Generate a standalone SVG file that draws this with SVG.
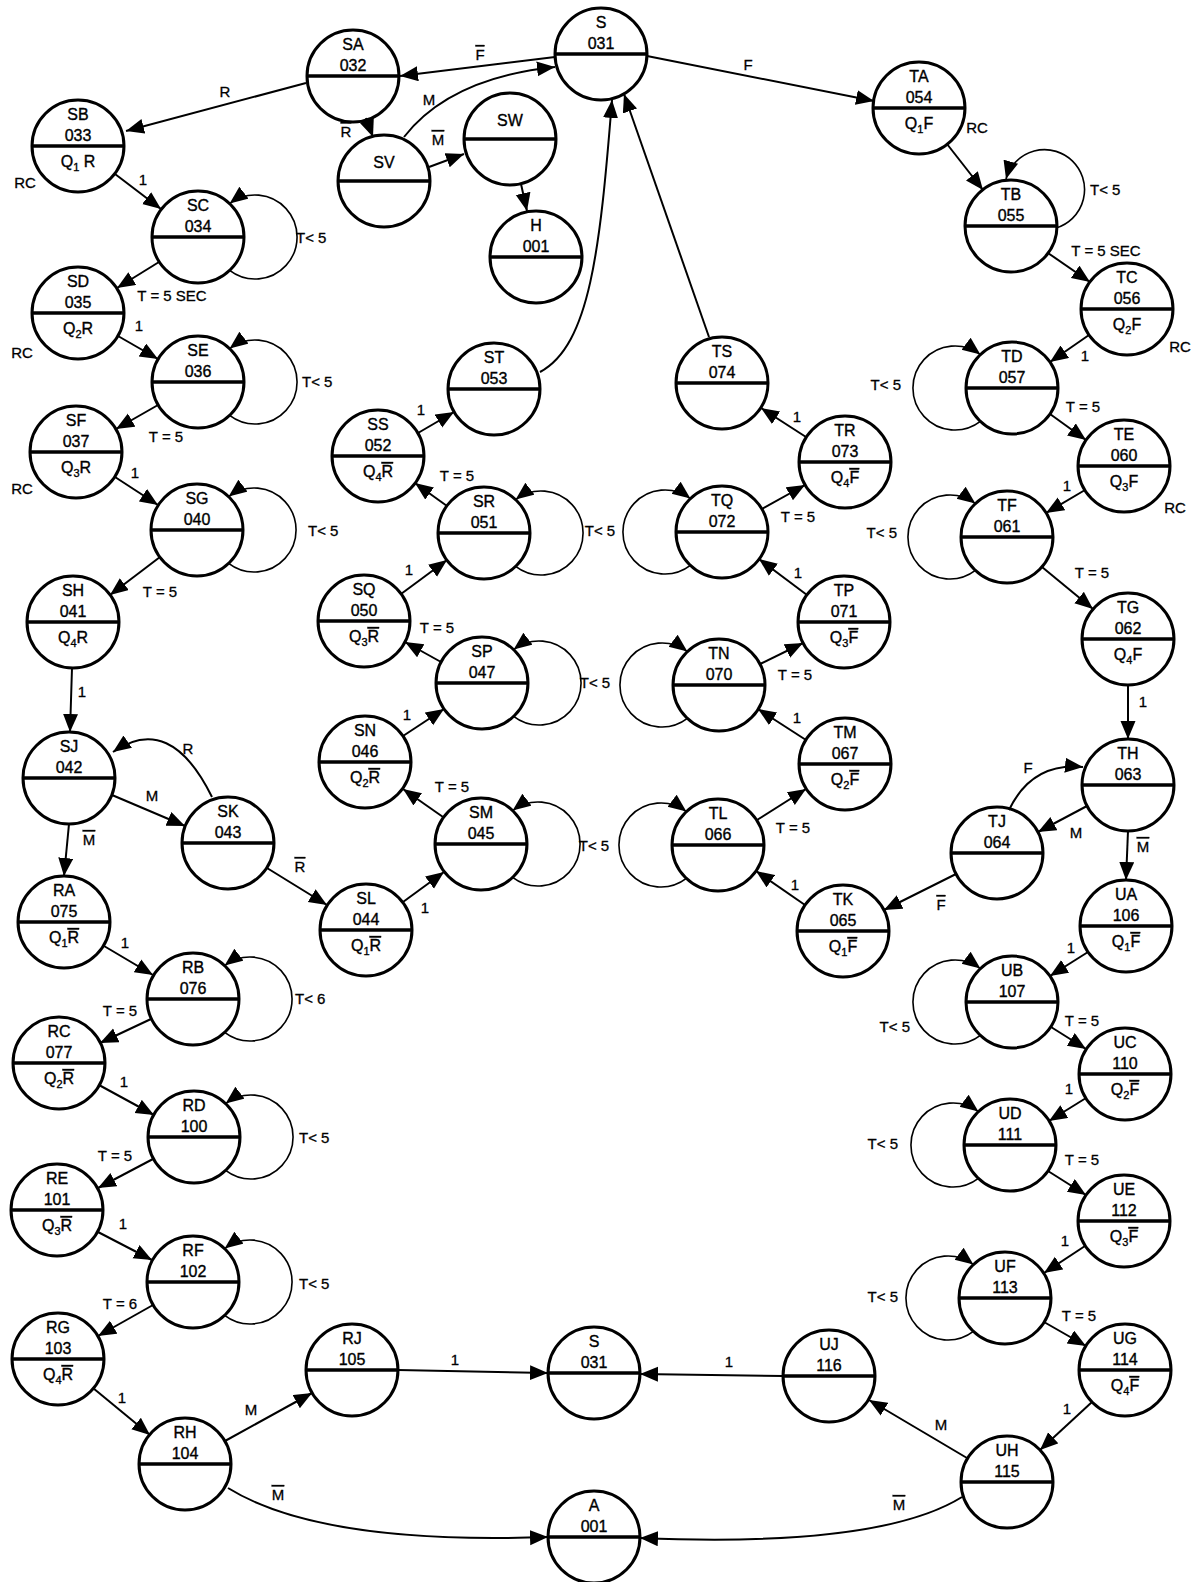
<svg xmlns="http://www.w3.org/2000/svg" width="1194" height="1582" viewBox="0 0 1194 1582">
<defs>
<style>
.n circle{fill:#fff;stroke:#000;stroke-width:3}
.n line{stroke:#000;stroke-width:3.5}
.t{font-family:"Liberation Sans",Arial,sans-serif;font-size:16px;text-anchor:middle;fill:#000;stroke:#000;stroke-width:0.35}
.s{font-size:11px}
.o{text-decoration:overline}
.e{fill:none;stroke:#000;stroke-width:2;marker-end:url(#ah)}
.lp{fill:none;stroke:#000;stroke-width:1.6;marker-end:url(#ah)}
.lb{font-family:"Liberation Sans",Arial,sans-serif;font-size:15px;fill:#000;stroke:#000;stroke-width:0.3;text-anchor:middle}
.ls{text-anchor:start}
.le{text-anchor:end}
</style>
<marker id="ah" markerUnits="userSpaceOnUse" markerWidth="20" markerHeight="16" refX="18" refY="7.5" orient="auto"><path d="M0,0 L18,7.5 L0,15 z" fill="#000"/></marker>
</defs>
<rect width="1194" height="1582" fill="#fff"/>

<g id="nodes">
<g id="S031" class="n"><circle cx="601" cy="54" r="46"/><line x1="555" y1="54" x2="647" y2="54"/><text class="t" x="601" y="28">S</text><text class="t" x="601" y="49">031</text></g>
<g id="SA" class="n"><circle cx="353" cy="76" r="46"/><line x1="307" y1="76" x2="399" y2="76"/><text class="t" x="353" y="50">SA</text><text class="t" x="353" y="71">032</text></g>
<g id="SB" class="n"><circle cx="78" cy="146" r="46"/><line x1="32" y1="146" x2="124" y2="146"/><text class="t" x="78" y="120">SB</text><text class="t" x="78" y="141">033</text><text class="t" x="78" y="167">Q<tspan class="s" dy="4">1</tspan><tspan dy="-4"> R</tspan></text></g>
<g id="SV" class="n"><circle cx="384" cy="181" r="46"/><line x1="338" y1="181" x2="430" y2="181"/><text class="t" x="384" y="168">SV</text></g>
<g id="SW" class="n"><circle cx="510" cy="139" r="46"/><line x1="464" y1="139" x2="556" y2="139"/><text class="t" x="510" y="126">SW</text></g>
<g id="H" class="n"><circle cx="536" cy="257" r="46"/><line x1="490" y1="257" x2="582" y2="257"/><text class="t" x="536" y="231">H</text><text class="t" x="536" y="252">001</text></g>
<g id="SC" class="n"><circle cx="198" cy="237" r="46"/><line x1="152" y1="237" x2="244" y2="237"/><text class="t" x="198" y="211">SC</text><text class="t" x="198" y="232">034</text></g>
<g id="SD" class="n"><circle cx="78" cy="313" r="46"/><line x1="32" y1="313" x2="124" y2="313"/><text class="t" x="78" y="287">SD</text><text class="t" x="78" y="308">035</text><text class="t" x="78" y="334">Q<tspan class="s" dy="4">2</tspan><tspan dy="-4">R</tspan></text></g>
<g id="SE" class="n"><circle cx="198" cy="382" r="46"/><line x1="152" y1="382" x2="244" y2="382"/><text class="t" x="198" y="356">SE</text><text class="t" x="198" y="377">036</text></g>
<g id="SF" class="n"><circle cx="76" cy="452" r="46"/><line x1="30" y1="452" x2="122" y2="452"/><text class="t" x="76" y="426">SF</text><text class="t" x="76" y="447">037</text><text class="t" x="76" y="473">Q<tspan class="s" dy="4">3</tspan><tspan dy="-4">R</tspan></text></g>
<g id="SG" class="n"><circle cx="197" cy="530" r="46"/><line x1="151" y1="530" x2="243" y2="530"/><text class="t" x="197" y="504">SG</text><text class="t" x="197" y="525">040</text></g>
<g id="SH" class="n"><circle cx="73" cy="622" r="46"/><line x1="27" y1="622" x2="119" y2="622"/><text class="t" x="73" y="596">SH</text><text class="t" x="73" y="617">041</text><text class="t" x="73" y="643">Q<tspan class="s" dy="4">4</tspan><tspan dy="-4">R</tspan></text></g>
<g id="SJ" class="n"><circle cx="69" cy="778" r="46"/><line x1="23" y1="778" x2="115" y2="778"/><text class="t" x="69" y="752">SJ</text><text class="t" x="69" y="773">042</text></g>
<g id="SK" class="n"><circle cx="228" cy="843" r="46"/><line x1="182" y1="843" x2="274" y2="843"/><text class="t" x="228" y="817">SK</text><text class="t" x="228" y="838">043</text></g>
<g id="SL" class="n"><circle cx="366" cy="930" r="46"/><line x1="320" y1="930" x2="412" y2="930"/><text class="t" x="366" y="904">SL</text><text class="t" x="366" y="925">044</text><text class="t" x="366" y="951">Q<tspan class="s" dy="4">1</tspan><tspan dy="-4" class="o">R</tspan></text></g>
<g id="SM" class="n"><circle cx="481" cy="844" r="46"/><line x1="435" y1="844" x2="527" y2="844"/><text class="t" x="481" y="818">SM</text><text class="t" x="481" y="839">045</text></g>
<g id="SN" class="n"><circle cx="365" cy="762" r="46"/><line x1="319" y1="762" x2="411" y2="762"/><text class="t" x="365" y="736">SN</text><text class="t" x="365" y="757">046</text><text class="t" x="365" y="783">Q<tspan class="s" dy="4">2</tspan><tspan dy="-4" class="o">R</tspan></text></g>
<g id="SP" class="n"><circle cx="482" cy="683" r="46"/><line x1="436" y1="683" x2="528" y2="683"/><text class="t" x="482" y="657">SP</text><text class="t" x="482" y="678">047</text></g>
<g id="SQ" class="n"><circle cx="364" cy="621" r="46"/><line x1="318" y1="621" x2="410" y2="621"/><text class="t" x="364" y="595">SQ</text><text class="t" x="364" y="616">050</text><text class="t" x="364" y="642">Q<tspan class="s" dy="4">3</tspan><tspan dy="-4" class="o">R</tspan></text></g>
<g id="SR" class="n"><circle cx="484" cy="533" r="46"/><line x1="438" y1="533" x2="530" y2="533"/><text class="t" x="484" y="507">SR</text><text class="t" x="484" y="528">051</text></g>
<g id="SS" class="n"><circle cx="378" cy="456" r="46"/><line x1="332" y1="456" x2="424" y2="456"/><text class="t" x="378" y="430">SS</text><text class="t" x="378" y="451">052</text><text class="t" x="378" y="477">Q<tspan class="s" dy="4">4</tspan><tspan dy="-4" class="o">R</tspan></text></g>
<g id="ST" class="n"><circle cx="494" cy="389" r="46"/><line x1="448" y1="389" x2="540" y2="389"/><text class="t" x="494" y="363">ST</text><text class="t" x="494" y="384">053</text></g>
<g id="TA" class="n"><circle cx="919" cy="108" r="46"/><line x1="873" y1="108" x2="965" y2="108"/><text class="t" x="919" y="82">TA</text><text class="t" x="919" y="103">054</text><text class="t" x="919" y="129">Q<tspan class="s" dy="4">1</tspan><tspan dy="-4">F</tspan></text></g>
<g id="TB" class="n"><circle cx="1011" cy="226" r="46"/><line x1="965" y1="226" x2="1057" y2="226"/><text class="t" x="1011" y="200">TB</text><text class="t" x="1011" y="221">055</text></g>
<g id="TC" class="n"><circle cx="1127" cy="309" r="46"/><line x1="1081" y1="309" x2="1173" y2="309"/><text class="t" x="1127" y="283">TC</text><text class="t" x="1127" y="304">056</text><text class="t" x="1127" y="330">Q<tspan class="s" dy="4">2</tspan><tspan dy="-4">F</tspan></text></g>
<g id="TD" class="n"><circle cx="1012" cy="388" r="46"/><line x1="966" y1="388" x2="1058" y2="388"/><text class="t" x="1012" y="362">TD</text><text class="t" x="1012" y="383">057</text></g>
<g id="TE" class="n"><circle cx="1124" cy="466" r="46"/><line x1="1078" y1="466" x2="1170" y2="466"/><text class="t" x="1124" y="440">TE</text><text class="t" x="1124" y="461">060</text><text class="t" x="1124" y="487">Q<tspan class="s" dy="4">3</tspan><tspan dy="-4">F</tspan></text></g>
<g id="TF" class="n"><circle cx="1007" cy="537" r="46"/><line x1="961" y1="537" x2="1053" y2="537"/><text class="t" x="1007" y="511">TF</text><text class="t" x="1007" y="532">061</text></g>
<g id="TG" class="n"><circle cx="1128" cy="639" r="46"/><line x1="1082" y1="639" x2="1174" y2="639"/><text class="t" x="1128" y="613">TG</text><text class="t" x="1128" y="634">062</text><text class="t" x="1128" y="660">Q<tspan class="s" dy="4">4</tspan><tspan dy="-4">F</tspan></text></g>
<g id="TH" class="n"><circle cx="1128" cy="785" r="46"/><line x1="1082" y1="785" x2="1174" y2="785"/><text class="t" x="1128" y="759">TH</text><text class="t" x="1128" y="780">063</text></g>
<g id="TJ" class="n"><circle cx="997" cy="853" r="46"/><line x1="951" y1="853" x2="1043" y2="853"/><text class="t" x="997" y="827">TJ</text><text class="t" x="997" y="848">064</text></g>
<g id="TK" class="n"><circle cx="843" cy="931" r="46"/><line x1="797" y1="931" x2="889" y2="931"/><text class="t" x="843" y="905">TK</text><text class="t" x="843" y="926">065</text><text class="t" x="843" y="952">Q<tspan class="s" dy="4">1</tspan><tspan dy="-4" class="o">F</tspan></text></g>
<g id="TL" class="n"><circle cx="718" cy="845" r="46"/><line x1="672" y1="845" x2="764" y2="845"/><text class="t" x="718" y="819">TL</text><text class="t" x="718" y="840">066</text></g>
<g id="TM" class="n"><circle cx="845" cy="764" r="46"/><line x1="799" y1="764" x2="891" y2="764"/><text class="t" x="845" y="738">TM</text><text class="t" x="845" y="759">067</text><text class="t" x="845" y="785">Q<tspan class="s" dy="4">2</tspan><tspan dy="-4" class="o">F</tspan></text></g>
<g id="TN" class="n"><circle cx="719" cy="685" r="46"/><line x1="673" y1="685" x2="765" y2="685"/><text class="t" x="719" y="659">TN</text><text class="t" x="719" y="680">070</text></g>
<g id="TP" class="n"><circle cx="844" cy="622" r="46"/><line x1="798" y1="622" x2="890" y2="622"/><text class="t" x="844" y="596">TP</text><text class="t" x="844" y="617">071</text><text class="t" x="844" y="643">Q<tspan class="s" dy="4">3</tspan><tspan dy="-4" class="o">F</tspan></text></g>
<g id="TQ" class="n"><circle cx="722" cy="532" r="46"/><line x1="676" y1="532" x2="768" y2="532"/><text class="t" x="722" y="506">TQ</text><text class="t" x="722" y="527">072</text></g>
<g id="TR" class="n"><circle cx="845" cy="462" r="46"/><line x1="799" y1="462" x2="891" y2="462"/><text class="t" x="845" y="436">TR</text><text class="t" x="845" y="457">073</text><text class="t" x="845" y="483">Q<tspan class="s" dy="4">4</tspan><tspan dy="-4" class="o">F</tspan></text></g>
<g id="TS" class="n"><circle cx="722" cy="383" r="46"/><line x1="676" y1="383" x2="768" y2="383"/><text class="t" x="722" y="357">TS</text><text class="t" x="722" y="378">074</text></g>
<g id="RA" class="n"><circle cx="64" cy="922" r="46"/><line x1="18" y1="922" x2="110" y2="922"/><text class="t" x="64" y="896">RA</text><text class="t" x="64" y="917">075</text><text class="t" x="64" y="943">Q<tspan class="s" dy="4">1</tspan><tspan dy="-4" class="o">R</tspan></text></g>
<g id="RB" class="n"><circle cx="193" cy="999" r="46"/><line x1="147" y1="999" x2="239" y2="999"/><text class="t" x="193" y="973">RB</text><text class="t" x="193" y="994">076</text></g>
<g id="RC" class="n"><circle cx="59" cy="1063" r="46"/><line x1="13" y1="1063" x2="105" y2="1063"/><text class="t" x="59" y="1037">RC</text><text class="t" x="59" y="1058">077</text><text class="t" x="59" y="1084">Q<tspan class="s" dy="4">2</tspan><tspan dy="-4" class="o">R</tspan></text></g>
<g id="RD" class="n"><circle cx="194" cy="1137" r="46"/><line x1="148" y1="1137" x2="240" y2="1137"/><text class="t" x="194" y="1111">RD</text><text class="t" x="194" y="1132">100</text></g>
<g id="RE" class="n"><circle cx="57" cy="1210" r="46"/><line x1="11" y1="1210" x2="103" y2="1210"/><text class="t" x="57" y="1184">RE</text><text class="t" x="57" y="1205">101</text><text class="t" x="57" y="1231">Q<tspan class="s" dy="4">3</tspan><tspan dy="-4" class="o">R</tspan></text></g>
<g id="RF" class="n"><circle cx="193" cy="1282" r="46"/><line x1="147" y1="1282" x2="239" y2="1282"/><text class="t" x="193" y="1256">RF</text><text class="t" x="193" y="1277">102</text></g>
<g id="RG" class="n"><circle cx="58" cy="1359" r="46"/><line x1="12" y1="1359" x2="104" y2="1359"/><text class="t" x="58" y="1333">RG</text><text class="t" x="58" y="1354">103</text><text class="t" x="58" y="1380">Q<tspan class="s" dy="4">4</tspan><tspan dy="-4" class="o">R</tspan></text></g>
<g id="RH" class="n"><circle cx="185" cy="1464" r="46"/><line x1="139" y1="1464" x2="231" y2="1464"/><text class="t" x="185" y="1438">RH</text><text class="t" x="185" y="1459">104</text></g>
<g id="RJ" class="n"><circle cx="352" cy="1370" r="46"/><line x1="306" y1="1370" x2="398" y2="1370"/><text class="t" x="352" y="1344">RJ</text><text class="t" x="352" y="1365">105</text></g>
<g id="S031b" class="n"><circle cx="594" cy="1373" r="46"/><line x1="548" y1="1373" x2="640" y2="1373"/><text class="t" x="594" y="1347">S</text><text class="t" x="594" y="1368">031</text></g>
<g id="A001" class="n"><circle cx="594" cy="1537" r="46"/><line x1="548" y1="1537" x2="640" y2="1537"/><text class="t" x="594" y="1511">A</text><text class="t" x="594" y="1532">001</text></g>
<g id="UA" class="n"><circle cx="1126" cy="926" r="46"/><line x1="1080" y1="926" x2="1172" y2="926"/><text class="t" x="1126" y="900">UA</text><text class="t" x="1126" y="921">106</text><text class="t" x="1126" y="947">Q<tspan class="s" dy="4">1</tspan><tspan dy="-4" class="o">F</tspan></text></g>
<g id="UB" class="n"><circle cx="1012" cy="1002" r="46"/><line x1="966" y1="1002" x2="1058" y2="1002"/><text class="t" x="1012" y="976">UB</text><text class="t" x="1012" y="997">107</text></g>
<g id="UC" class="n"><circle cx="1125" cy="1074" r="46"/><line x1="1079" y1="1074" x2="1171" y2="1074"/><text class="t" x="1125" y="1048">UC</text><text class="t" x="1125" y="1069">110</text><text class="t" x="1125" y="1095">Q<tspan class="s" dy="4">2</tspan><tspan dy="-4" class="o">F</tspan></text></g>
<g id="UD" class="n"><circle cx="1010" cy="1145" r="46"/><line x1="964" y1="1145" x2="1056" y2="1145"/><text class="t" x="1010" y="1119">UD</text><text class="t" x="1010" y="1140">111</text></g>
<g id="UE" class="n"><circle cx="1124" cy="1221" r="46"/><line x1="1078" y1="1221" x2="1170" y2="1221"/><text class="t" x="1124" y="1195">UE</text><text class="t" x="1124" y="1216">112</text><text class="t" x="1124" y="1242">Q<tspan class="s" dy="4">3</tspan><tspan dy="-4" class="o">F</tspan></text></g>
<g id="UF" class="n"><circle cx="1005" cy="1298" r="46"/><line x1="959" y1="1298" x2="1051" y2="1298"/><text class="t" x="1005" y="1272">UF</text><text class="t" x="1005" y="1293">113</text></g>
<g id="UG" class="n"><circle cx="1125" cy="1370" r="46"/><line x1="1079" y1="1370" x2="1171" y2="1370"/><text class="t" x="1125" y="1344">UG</text><text class="t" x="1125" y="1365">114</text><text class="t" x="1125" y="1391">Q<tspan class="s" dy="4">4</tspan><tspan dy="-4" class="o">F</tspan></text></g>
<g id="UH" class="n"><circle cx="1007" cy="1482" r="46"/><line x1="961" y1="1482" x2="1053" y2="1482"/><text class="t" x="1007" y="1456">UH</text><text class="t" x="1007" y="1477">115</text></g>
<g id="UJ" class="n"><circle cx="829" cy="1376" r="46"/><line x1="783" y1="1376" x2="875" y2="1376"/><text class="t" x="829" y="1350">UJ</text><text class="t" x="829" y="1371">116</text></g>
</g>

<g id="connectors">
<path class="e" d="M555 57 L400 76"/>
<path class="e" d="M647 56 L874 101"/>
<path class="e" d="M306 83 L126 131"/>
<path class="e" d="M366 118 L373 137"/>
<path class="e" d="M404 137 Q450 78 555 67"/>
<path class="e" d="M429 167 L464 154"/>
<path class="e" d="M521 184 L527 211"/>
<path class="e" d="M115 174 L161 209"/>
<path class="e" d="M159 262 L117 288"/>
<path class="e" d="M118 336 L158 359"/>
<path class="e" d="M158 405 L116 429"/>
<path class="e" d="M115 477 L158 505"/>
<path class="e" d="M160 557 L110 595"/>
<path class="e" d="M72 668 L70 732"/>
<path class="e" d="M112 795 L185 826"/>
<path class="e" d="M212 797 Q170 712 113 752"/>
<path class="e" d="M69 824 L64 876"/>
<path class="e" d="M267 868 L327 905"/>
<path class="e" d="M403 902 L444 872"/>
<path class="e" d="M443 817 L403 789"/>
<path class="e" d="M403 736 L444 709"/>
<path class="e" d="M441 662 L405 642"/>
<path class="e" d="M401 594 L447 560"/>
<path class="e" d="M447 506 L415 483"/>
<path class="e" d="M418 433 L454 412"/>
<path class="e" d="M540 372 C590 345 600 250 612 100"/>
<path class="e" d="M709 337 L624 94"/>
<path class="e" d="M806 437 L761 408"/>
<path class="e" d="M762 509 L805 485"/>
<path class="e" d="M807 595 L759 559"/>
<path class="e" d="M760 664 L803 643"/>
<path class="e" d="M806 740 L758 709"/>
<path class="e" d="M757 820 L806 789"/>
<path class="e" d="M805 905 L756 871"/>
<path class="e" d="M956 874 L884 910"/>
<path class="e" d="M1009 810 Q1032 762 1083 767"/>
<path class="e" d="M1087 806 L1038 832"/>
<path class="e" d="M1128 831 L1126 880"/>
<path class="e" d="M1128 685 L1128 739"/>
<path class="e" d="M1042 567 L1093 609"/>
<path class="e" d="M1085 490 L1046 513"/>
<path class="e" d="M1050 414 L1086 440"/>
<path class="e" d="M1089 335 L1050 362"/>
<path class="e" d="M1048 253 L1090 282"/>
<path class="e" d="M947 144 L983 190"/>
<path class="e" d="M1088 952 L1050 976"/>
<path class="e" d="M1051 1027 L1086 1049"/>
<path class="e" d="M1086 1098 L1049 1121"/>
<path class="e" d="M1048 1171 L1086 1195"/>
<path class="e" d="M1085 1246 L1044 1273"/>
<path class="e" d="M1044 1322 L1086 1346"/>
<path class="e" d="M1092 1402 L1040 1450"/>
<path class="e" d="M967 1458 L869 1400"/>
<path class="e" d="M783 1376 L640 1374"/>
<path class="e" d="M962 1497 Q880 1548 640 1538"/>
<path class="e" d="M398 1370 L548 1373"/>
<path class="e" d="M225 1441 L312 1393"/>
<path class="e" d="M228 1488 Q320 1545 548 1537"/>
<path class="e" d="M93 1388 L150 1435"/>
<path class="e" d="M153 1305 L98 1336"/>
<path class="e" d="M98 1232 L152 1260"/>
<path class="e" d="M153 1159 L98 1188"/>
<path class="e" d="M99 1085 L154 1115"/>
<path class="e" d="M151 1019 L100 1043"/>
<path class="e" d="M104 946 L153 975"/>
<path class="lp" d="M229.6 270.4 A42 42 0 1 0 229.6 203.6"/>
<path class="lp" d="M229.6 415.4 A42 42 0 1 0 229.6 348.6"/>
<path class="lp" d="M228.6 563.4 A42 42 0 1 0 228.6 496.6"/>
<path class="lp" d="M515.6 566.4 A42 42 0 1 0 515.6 499.6"/>
<path class="lp" d="M513.6 716.4 A42 42 0 1 0 513.6 649.6"/>
<path class="lp" d="M512.6 877.4 A42 42 0 1 0 512.6 810.6"/>
<path class="lp" d="M224.6 1032.4 A42 42 0 1 0 224.6 965.6"/>
<path class="lp" d="M225.6 1170.4 A42 42 0 1 0 225.6 1103.6"/>
<path class="lp" d="M224.6 1315.4 A42 42 0 1 0 224.6 1248.6"/>
<path class="lp" d="M980.4 421.4 A42 42 0 1 1 980.4 354.6"/>
<path class="lp" d="M975.4 570.4 A42 42 0 1 1 975.4 503.6"/>
<path class="lp" d="M690.4 565.4 A42 42 0 1 1 690.4 498.6"/>
<path class="lp" d="M687.4 718.4 A42 42 0 1 1 687.4 651.6"/>
<path class="lp" d="M686.4 878.4 A42 42 0 1 1 686.4 811.6"/>
<path class="lp" d="M980.4 1035.4 A42 42 0 1 1 980.4 968.6"/>
<path class="lp" d="M978.4 1178.4 A42 42 0 1 1 978.4 1111.6"/>
<path class="lp" d="M973.4 1331.4 A42 42 0 1 1 973.4 1264.6"/>
<path class="lp" d="M1056 228 A40 40 0 1 0 1006 179"/>
</g>

<g id="labels">
<text class="lb o" x="480" y="60">F</text>
<text class="lb" x="748" y="70">F</text>
<text class="lb" x="225" y="97">R</text>
<text class="lb o" x="346" y="137">R</text>
<text class="lb" x="429" y="105">M</text>
<text class="lb o" x="438" y="145">M</text>
<text class="lb" x="143" y="185">1</text>
<text class="lb" x="25" y="188">RC</text>
<text class="lb ls" x="296" y="243">T&lt; 5</text>
<text class="lb" x="172" y="301">T = 5 SEC</text>
<text class="lb" x="22" y="358">RC</text>
<text class="lb" x="139" y="331">1</text>
<text class="lb ls" x="302" y="387">T&lt; 5</text>
<text class="lb" x="166" y="442">T = 5</text>
<text class="lb" x="135" y="478">1</text>
<text class="lb" x="22" y="494">RC</text>
<text class="lb ls" x="308" y="536">T&lt; 5</text>
<text class="lb" x="160" y="597">T = 5</text>
<text class="lb" x="82" y="697">1</text>
<text class="lb" x="188" y="754">R</text>
<text class="lb" x="152" y="801">M</text>
<text class="lb o" x="89" y="845">M</text>
<text class="lb o" x="300" y="872">R</text>
<text class="lb" x="425" y="913">1</text>
<text class="lb" x="452" y="792">T = 5</text>
<text class="lb" x="407" y="720">1</text>
<text class="lb" x="437" y="633">T = 5</text>
<text class="lb" x="409" y="575">1</text>
<text class="lb" x="457" y="481">T = 5</text>
<text class="lb" x="421" y="415">1</text>
<text class="lb" x="600" y="536">T&lt; 5</text>
<text class="lb" x="595" y="688">T&lt; 5</text>
<text class="lb" x="594" y="851">T&lt; 5</text>
<text class="lb" x="977" y="133">RC</text>
<text class="lb ls" x="1090" y="195">T&lt; 5</text>
<text class="lb" x="1106" y="256">T = 5 SEC</text>
<text class="lb" x="1180" y="352">RC</text>
<text class="lb" x="1085" y="361">1</text>
<text class="lb le" x="901" y="390">T&lt; 5</text>
<text class="lb" x="1083" y="412">T = 5</text>
<text class="lb" x="1067" y="491">1</text>
<text class="lb" x="1175" y="513">RC</text>
<text class="lb le" x="897" y="538">T&lt; 5</text>
<text class="lb" x="1092" y="578">T = 5</text>
<text class="lb" x="1143" y="707">1</text>
<text class="lb" x="1028" y="773">F</text>
<text class="lb" x="1076" y="838">M</text>
<text class="lb o" x="1143" y="852">M</text>
<text class="lb o" x="941" y="910">F</text>
<text class="lb" x="797" y="422">1</text>
<text class="lb" x="798" y="522">T = 5</text>
<text class="lb" x="798" y="578">1</text>
<text class="lb" x="795" y="680">T = 5</text>
<text class="lb" x="797" y="723">1</text>
<text class="lb" x="793" y="833">T = 5</text>
<text class="lb" x="795" y="890">1</text>
<text class="lb" x="1071" y="953">1</text>
<text class="lb le" x="910" y="1032">T&lt; 5</text>
<text class="lb" x="1082" y="1026">T = 5</text>
<text class="lb" x="1069" y="1094">1</text>
<text class="lb le" x="898" y="1149">T&lt; 5</text>
<text class="lb" x="1082" y="1165">T = 5</text>
<text class="lb" x="1065" y="1246">1</text>
<text class="lb le" x="898" y="1302">T&lt; 5</text>
<text class="lb" x="1079" y="1321">T = 5</text>
<text class="lb" x="1067" y="1414">1</text>
<text class="lb" x="941" y="1430">M</text>
<text class="lb o" x="899" y="1510">M</text>
<text class="lb" x="729" y="1367">1</text>
<text class="lb" x="455" y="1365">1</text>
<text class="lb" x="251" y="1415">M</text>
<text class="lb o" x="278" y="1500">M</text>
<text class="lb" x="122" y="1403">1</text>
<text class="lb" x="125" y="948">1</text>
<text class="lb ls" x="295" y="1004">T&lt; 6</text>
<text class="lb" x="120" y="1016">T = 5</text>
<text class="lb" x="124" y="1087">1</text>
<text class="lb ls" x="299" y="1143">T&lt; 5</text>
<text class="lb" x="115" y="1161">T = 5</text>
<text class="lb" x="123" y="1229">1</text>
<text class="lb ls" x="299" y="1289">T&lt; 5</text>
<text class="lb" x="120" y="1309">T = 6</text>
</g>
</svg>
